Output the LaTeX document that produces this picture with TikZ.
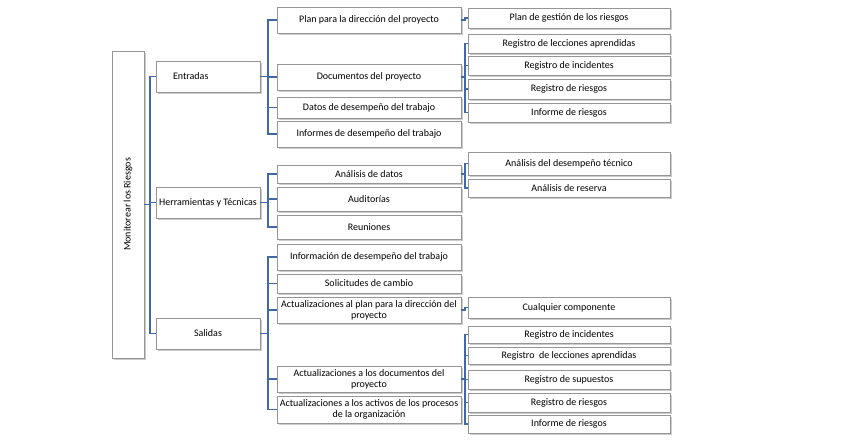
\documentclass[tikz,border=0pt]{standalone}
\usepackage{fontspec}
\setmainfont{Carlito}
\usetikzlibrary{shadows}

\definecolor{linkblue}{RGB}{65,105,165}
\definecolor{boxgray}{RGB}{150,150,150}

\begin{document}
\begin{tikzpicture}[x=1pt,y=-1pt]
\tikzstyle{box} = [rectangle, draw=boxgray, fill=white, inner sep=0pt,
font=\fontsize{10}{11}\selectfont, align=center,
drop shadow={shadow xshift=1.5pt, shadow yshift=-1.8pt, opacity=0.4, fill=gray}]
\tikzstyle{root} = [box, minimum width=32, minimum height=307]
\tikzstyle{lvlone} = [box, minimum width=104]
\tikzstyle{lvltwo} = [box, minimum width=184]
\tikzstyle{lvlthree} = [box, minimum width=202]
\tikzstyle{line} = [draw=linkblue, line width=1.8pt];
\useasboundingbox (0,0) rectangle (860,443);

% root
\node [root] (monitorear) at (128,204.5) {\rotatebox{90}{Monitorear los Riesgos}};
% column 1
\node [lvlone, minimum height=31, text width=70, align=left] (entradas) at (208,76.5) {Entradas};
\node [lvlone, minimum height=31] (herramientas) at (208,202.5) {Herramientas y Técnicas};
\node [lvlone, minimum height=31] (salidas) at (208,333.5) {Salidas};
% column 2
\node [lvltwo, minimum height=26] (plan) at (369,20) {Plan para la dirección del proyecto};
\node [lvltwo, minimum height=26] (documentos) at (369,77) {Documentos del proyecto};
\node [lvltwo, minimum height=21] (datos) at (369,107.5) {Datos de desempeño del trabajo};
\node [lvltwo, minimum height=26] (informes) at (369,134) {Informes de desempeño del trabajo};
\node [lvltwo, minimum height=18] (analisis) at (369,174) {Análisis de datos};
\node [lvltwo, minimum height=24] (auditorias) at (369,199) {Auditorías};
\node [lvltwo, minimum height=24] (reuniones) at (369,227) {Reuniones};
\node [lvltwo, minimum height=26] (informacion) at (369,257) {Información de desempeño del trabajo};
\node [lvltwo, minimum height=19] (solicitudes) at (369,283.5) {Solicitudes de cambio};
\node [lvltwo, minimum height=26] (actplan) at (369,310) {Actualizaciones al plan para la dirección del\\proyecto};
\node [lvltwo, minimum height=26] (actdocs) at (369,379) {Actualizaciones a los documentos del\\proyecto};
\node [lvltwo, minimum height=27] (actactivos) at (369,409.5) {Actualizaciones a los activos de los procesos\\de la organización};
% column 3
\node [lvlthree, minimum height=20] (plangestion) at (569,18) {Plan de gestión de los riesgos};
\node [lvlthree, minimum height=19] (lecciones) at (569,43.5) {Registro de lecciones aprendidas};
\node [lvlthree, minimum height=19] (incidentes) at (569,65.5) {Registro de incidentes};
\node [lvlthree, minimum height=20] (riesgos) at (569,89) {Registro de riesgos};
\node [lvlthree, minimum height=19] (informe) at (569,112.5) {Informe de riesgos};
\node [lvlthree, minimum height=23] (desempeno) at (569,163.5) {Análisis del desempeño técnico};
\node [lvlthree, minimum height=18] (reserva) at (569,188) {Análisis de reserva};
\node [lvlthree, minimum height=21] (cualquier) at (569,307.5) {Cualquier componente};
\node [lvlthree, minimum height=17] (incidentesb) at (569,334.5) {Registro de incidentes};
\node [lvlthree, minimum height=17] (leccionesb) at (569,355.5) {Registro\ \ de lecciones aprendidas};
\node [lvlthree, minimum height=19] (supuestos) at (569,379.5) {Registro de supuestos};
\node [lvlthree, minimum height=19] (riesgosb) at (569,402.5) {Registro de riesgos};
\node [lvlthree, minimum height=18] (informeb) at (569,424) {Informe de riesgos};

\tikzstyle{every path}=[line]
% root to column 1
\path (monitorear.east) -- ++(6,0) |- (entradas.west);
\path (monitorear.east) -- ++(6,0) |- (herramientas.west);
\path (monitorear.east) -- ++(6,0) |- (salidas.west);
% column 1 to column 2
\path (entradas.east) -- ++(8,0) |- (plan.west);
\path (entradas.east) -- ++(8,0) |- (documentos.west);
\path (entradas.east) -- ++(8,0) |- (datos.west);
\path (entradas.east) -- ++(8,0) |- (informes.west);
\path (herramientas.east) -- ++(8,0) |- (analisis.west);
\path (herramientas.east) -- ++(8,0) |- (auditorias.west);
\path (herramientas.east) -- ++(8,0) |- (reuniones.west);
\path (salidas.east) -- ++(8,0) |- (informacion.west);
\path (salidas.east) -- ++(8,0) |- (solicitudes.west);
\path (salidas.east) -- ++(8,0) |- (actplan.west);
\path (salidas.east) -- ++(8,0) |- (actdocs.west);
\path (salidas.east) -- ++(8,0) |- (actactivos.west);
% column 2 to column 3
\path (plan.east) -- ++(4,0) |- (plangestion.west);
\path (documentos.east) -- ++(4,0) |- (lecciones.west);
\path (documentos.east) -- ++(4,0) |- (incidentes.west);
\path (documentos.east) -- ++(4,0) |- (riesgos.west);
\path (documentos.east) -- ++(4,0) |- (informe.west);
\path (analisis.east) -- ++(4,0) |- (desempeno.west);
\path (analisis.east) -- ++(4,0) |- (reserva.west);
\path (actplan.east) -- ++(4,0) |- (cualquier.west);
\path (actdocs.east) -- ++(4,0) |- (incidentesb.west);
\path (actdocs.east) -- ++(4,0) |- (leccionesb.west);
\path (actdocs.east) -- ++(4,0) |- (supuestos.west);
\path (actdocs.east) -- ++(4,0) |- (riesgosb.west);
\path (actdocs.east) -- ++(4,0) |- (informeb.west);
\end{tikzpicture}
\end{document}
